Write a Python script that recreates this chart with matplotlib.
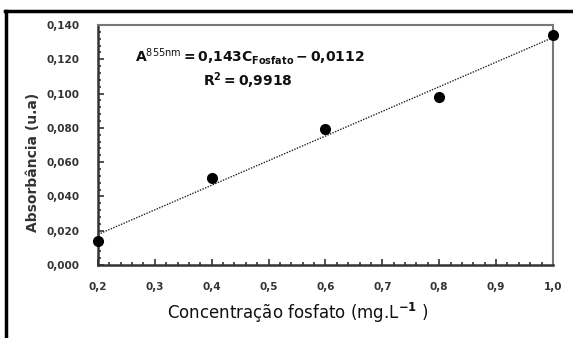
import numpy as np
import matplotlib.pyplot as plt
from matplotlib.lines import Line2D
from matplotlib.ticker import MultipleLocator, FuncFormatter

plt.rcParams['font.family'] = ['DejaVu Sans']
plt.rcParams['mathtext.fontset'] = 'custom'
plt.rcParams['mathtext.rm'] = 'DejaVu Sans'
plt.rcParams['mathtext.bf'] = 'DejaVu Sans:bold'

# dados da curva de calibração
concentracao = [0.2, 0.4, 0.6, 0.8, 1.0]
absorbancia = [0.0142, 0.0506, 0.0793, 0.0982, 0.134]

equacao = r'$\mathbf{A^{\mathrm{855nm}} = 0{,}143C_{Fosfato} - 0{,}0112}$'
r2_texto = r'$\mathbf{R^2 = 0{,}9918}$'

fig = plt.figure(figsize=(5.73, 3.38), dpi=100)
ax = fig.add_axes([0.171, 0.216, 0.794, 0.71])

# linha de tendência (ajuste linear)
a, b = np.polyfit(concentracao, absorbancia, 1)
xs = np.array([0.2, 1.0])
ax.plot(xs, a * xs + b, color='#222222', linestyle=(0, (1, 1)), linewidth=1.0)
ax.plot(concentracao, absorbancia, 'o', color='black', markersize=7, clip_on=False, zorder=5)

ax.set_xlim(0.2, 1.0)
ax.set_ylim(0, 0.14)
ax.xaxis.set_major_locator(MultipleLocator(0.1))
ax.xaxis.set_minor_locator(MultipleLocator(0.02))
ax.yaxis.set_major_locator(MultipleLocator(0.02))
ax.yaxis.set_minor_locator(MultipleLocator(0.004))
ax.xaxis.set_major_formatter(FuncFormatter(lambda v, p: f"{v:.1f}".replace('.', ',')))
ax.yaxis.set_major_formatter(FuncFormatter(lambda v, p: f"{v:.3f}".replace('.', ',')))

ax.tick_params(which='both', direction='in', color='#333333', width=1.2)
ax.tick_params(which='major', length=4, labelsize=7.5, labelcolor='#333333', pad=12)
ax.tick_params(which='minor', length=2.5)
ax.tick_params(axis='y', pad=13)
for lbl in ax.get_xticklabels() + ax.get_yticklabels():
    lbl.set_fontweight('bold')

for lado in ['left', 'bottom']:
    ax.spines[lado].set_color('#333333')
    ax.spines[lado].set_linewidth(1.8)
for lado in ['top', 'right']:
    ax.spines[lado].set_color('#777777')
    ax.spines[lado].set_linewidth(1.5)

ax.text(0.081, 0.867, equacao, transform=ax.transAxes, ha='left', va='center',
        fontsize=10, color='#111111')
ax.text(0.231, 0.77, r2_texto, transform=ax.transAxes, ha='left', va='center',
        fontsize=10, color='#111111')

fig.text(0.058, 0.52, 'Absorbância (u.a)', rotation=90, ha='center', va='center',
         fontsize=10, fontweight='bold', color='#333333')
fig.text(0.52, 0.075, r'Concentração fosfato (mg.L$^{\mathbf{-1}}$ )', ha='center', va='center',
         fontsize=12, color='#111111')

# moldura da figura
fig.add_artist(Line2D([0.009, 1.0], [0.967, 0.967], color='black', linewidth=2.5))
fig.add_artist(Line2D([0.011, 0.011], [0.0, 0.967], color='black', linewidth=2.5))

fig.savefig('out.png', dpi=100)
